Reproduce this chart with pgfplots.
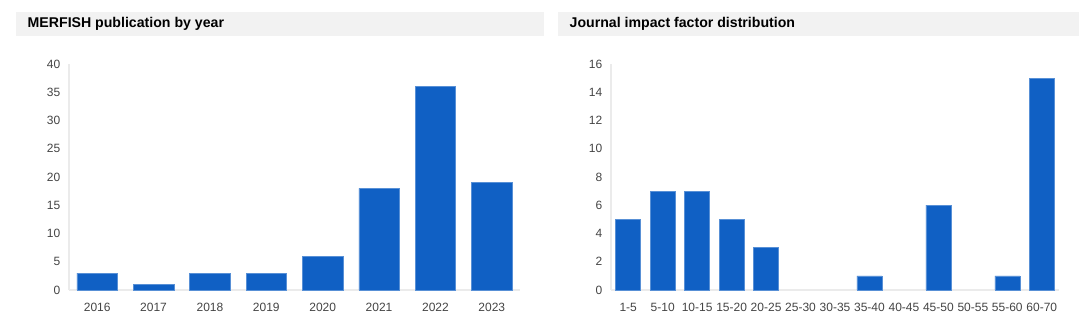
\documentclass[border=0pt]{standalone}
\usepackage{pgfplots}
\pgfplotsset{compat=1.18}
\usepackage{fontspec}
\setmainfont{Liberation Sans}
\definecolor{barblue}{RGB}{16,96,196}
\definecolor{panelgrey}{RGB}{242,242,242}
\definecolor{ticktext}{RGB}{68,68,68}
\definecolor{axisgrey}{RGB}{235,235,235}
\begin{document}
\begin{tikzpicture}[x=0.75pt,y=0.75pt]
\path[use as bounding box] (0,0) rectangle (1080,324);
% title panels (y flipped: tikz y = 324 - px)
\fill[panelgrey] (16,{324-12}) rectangle (544,{324-36});
\fill[panelgrey] (558,{324-12}) rectangle (1079,{324-36});
\node[anchor=west,font=\bfseries\fontsize{10.6pt}{12pt}\selectfont] at (23,{324-24}) {MERFISH publication by year};
\node[anchor=west,font=\bfseries\fontsize{10.6pt}{12pt}\selectfont] at (565,{324-24}) {Journal impact factor distribution};
\pgfplotsset{
  panel/.style={
    scale only axis,
    anchor=south west,
    height=169.5pt,
    ybar,
    ymin=0,
    axis x line*=bottom,
    axis y line*=left,
    axis line style={draw=axisgrey,line width=1pt,-},
    major tick length=0pt,
    tick label style={font=\fontsize{9pt}{10pt}\selectfont,text=ticktext},
    /pgf/number format/assume math mode=true,
    ymajorgrids=false,
    yticklabel style={xshift=-3pt},
    xticklabel style={yshift=-6.5pt},
    clip=false,
  }
}
\begin{axis}[panel,
  at={(51.75pt,25.5pt)},
  width=338.25pt,
  ymax=40, ytick={0,5,...,40},
  xmin=-0.5, xmax=7.5,
  bar width=30.4pt,
  xtick={0,...,7},
  xticklabels={2016,2017,2018,2019,2020,2021,2022,2023},
]
\addplot[fill=barblue,draw=barblue!70!white] coordinates {
(0,3) (1,1) (2,3) (3,3) (4,6) (5,18) (6,36) (7,19)};
\end{axis}
\begin{axis}[panel,
  at={(458.25pt,25.5pt)},
  width=336pt,
  ymax=16, ytick={0,2,...,16},
  xmin=-0.5, xmax=12.5,
  bar width=18.75pt,
  xtick={0,...,12},
  xticklabels={1-5,5-10,10-15,15-20,20-25,25-30,30-35,35-40,40-45,45-50,50-55,55-60,60-70},
]
% categories 25-30, 30-35, 40-45 and 50-55 have 0 and draw no bar
\addplot[fill=barblue,draw=barblue!70!white] coordinates {
(0,5) (1,7) (2,7) (3,5) (4,3) (7,1) (9,6) (11,1) (12,15)};
\end{axis}
\end{tikzpicture}
\end{document}
